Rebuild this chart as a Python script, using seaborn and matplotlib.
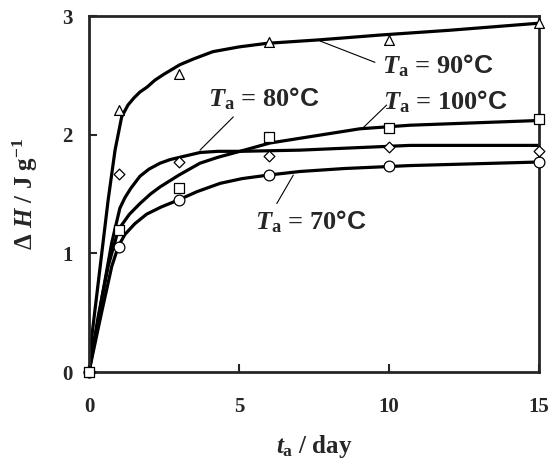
import pandas as pd
import matplotlib.pyplot as plt
import numpy as np
import seaborn as sns

sns.set_style('ticks')
plt.rcParams['font.family'] = ['Liberation Serif', 'DejaVu Serif']
plt.rcParams['font.weight'] = 'bold'
plt.rcParams['mathtext.fontset'] = 'custom'
plt.rcParams['mathtext.rm'] = 'Liberation Serif:bold'
plt.rcParams['mathtext.it'] = 'Liberation Serif:italic:bold'
plt.rcParams['mathtext.bf'] = 'Liberation Serif:bold'
plt.rcParams['mathtext.sf'] = 'Liberation Sans:bold'

# measured points (annealing time in days)
t_meas = [0, 1, 3, 6, 10, 15]
dh_70 = [0, 1.05, 1.45, 1.66, 1.74, 1.77]
dh_80 = [0, 1.67, 1.77, 1.82, 1.90, 1.86]
dh_90 = [0, 2.21, 2.51, 2.78, 2.80, 2.94]
dh_100 = [0, 1.20, 1.55, 1.98, 2.06, 2.13]

# fitted curves
t_fit_70 = [0, 0.42, 0.76, 0.98, 1.2, 1.53, 1.92, 2.4, 2.98, 3.6, 4.37, 5.1, 5.98, 7.03, 8.5, 10.7, 15]
fit_70 = [0, 0.50, 0.89, 1.06, 1.16, 1.25, 1.33, 1.39, 1.45, 1.52, 1.59, 1.63, 1.66, 1.69, 1.715, 1.74, 1.77]
t_fit_80 = [0, 0.2, 0.42, 0.76, 1.03, 1.2, 1.4, 1.7, 2.0, 2.37, 2.7, 3.03, 3.7, 4.3, 5.03, 7.03, 10.7, 15]
fit_80 = [0, 0.27, 0.61, 1.09, 1.38, 1.47, 1.55, 1.65, 1.71, 1.76, 1.79, 1.81, 1.85, 1.86, 1.86, 1.87, 1.91, 1.91]
t_fit_90 = [0, 0.11, 0.37, 0.64, 0.87, 1.09, 1.3, 1.5, 1.7, 1.93, 2.2, 2.5, 3.03, 3.5, 4.13, 5.0, 5.92,
            7.7, 9.7, 12, 15]
fit_90 = [0, 0.33, 0.88, 1.45, 1.87, 2.15, 2.25, 2.31, 2.36, 2.40, 2.46, 2.51, 2.59, 2.64, 2.70, 2.74, 2.77,
          2.80, 2.84, 2.88, 2.94]
t_fit_100 = [0, 0.31, 0.64, 0.98, 1.35, 1.7, 2.05, 2.37, 3.0, 3.7, 4.3, 5.03, 6.03, 7.03, 9.03, 10.7, 15]
fit_100 = [0, 0.47, 0.89, 1.20, 1.33, 1.42, 1.50, 1.56, 1.66, 1.76, 1.81, 1.86, 1.93, 1.97, 2.05, 2.08, 2.12]

my_dpi = 100
fig = plt.figure(figsize=(549 / my_dpi, 459 / my_dpi), dpi=my_dpi)
ax = fig.add_axes([0.162, 0.1895, 0.82, 0.7755])

# curves
for tt, yy in [(t_fit_70, fit_70), (t_fit_80, fit_80), (t_fit_90, fit_90), (t_fit_100, fit_100)]:
    sns.lineplot(x=tt, y=yy, ax=ax, color='black', linewidth=2.3, sort=False, estimator=None)

# open markers
for yy, mk, ms in [(dh_70, 'o', 60), (dh_80, 'D', 30), (dh_90, '^', 50), (dh_100, 's', 60)]:
    sns.scatterplot(x=t_meas, y=yy, ax=ax, marker=mk, s=ms, facecolor='white', edgecolor='black',
                    linewidth=0.9, zorder=5, clip_on=False)

ax.set_xlim(0, 15)
ax.set_ylim(0, 3)
ax.set_xticks([0, 5, 10, 15])
ax.set_yticks([0, 1, 2, 3])
ax.tick_params(axis='x', direction='in', length=6, width=1.5, pad=18, labelsize=15)
ax.tick_params(axis='y', direction='in', length=6, width=1.5, pad=12, labelsize=15)
plt.setp(ax.spines.values(), linewidth=2)
for lab in ax.get_xticklabels() + ax.get_yticklabels():
    lab.set_fontweight('bold')

ax.set_xlabel(r'$\mathit{t}_\mathbf{a}$ / day', fontsize=18, fontweight='bold')
ax.xaxis.set_label_coords(0.5, -0.17)
ax.set_ylabel(r'$\Delta\ \mathit{H}$ / J g$^{\mathbf{-1}}$', fontsize=18, fontweight='bold')
ax.yaxis.set_label_coords(-0.142, 0.5)
ax.yaxis.label.set_va('center')

# labels with leader lines
labels = [(9.77, 2.52, '90', (7.7, 2.79), (9.53, 2.61)),
          (3.97, 2.24, '80', (3.7, 1.87), (4.81, 2.15)),
          (9.8, 2.21, '100', (9.14, 2.06), (9.92, 2.25)),
          (5.53, 1.20, '70', (6.81, 1.66), (6.26, 1.42))]
for tx, ty, temp, p0, p1 in labels:
    ax.plot([p0[0], p1[0]], [p0[1], p1[1]], color='black', linewidth=0.8)
    ax.text(tx, ty, r'$\mathit{T}_\mathbf{a}$ = ' + temp + r'$\mathsf{°C}$', fontsize=19,
            fontweight='bold', ha='left', va='baseline')

plt.savefig('out.png', dpi=my_dpi)
